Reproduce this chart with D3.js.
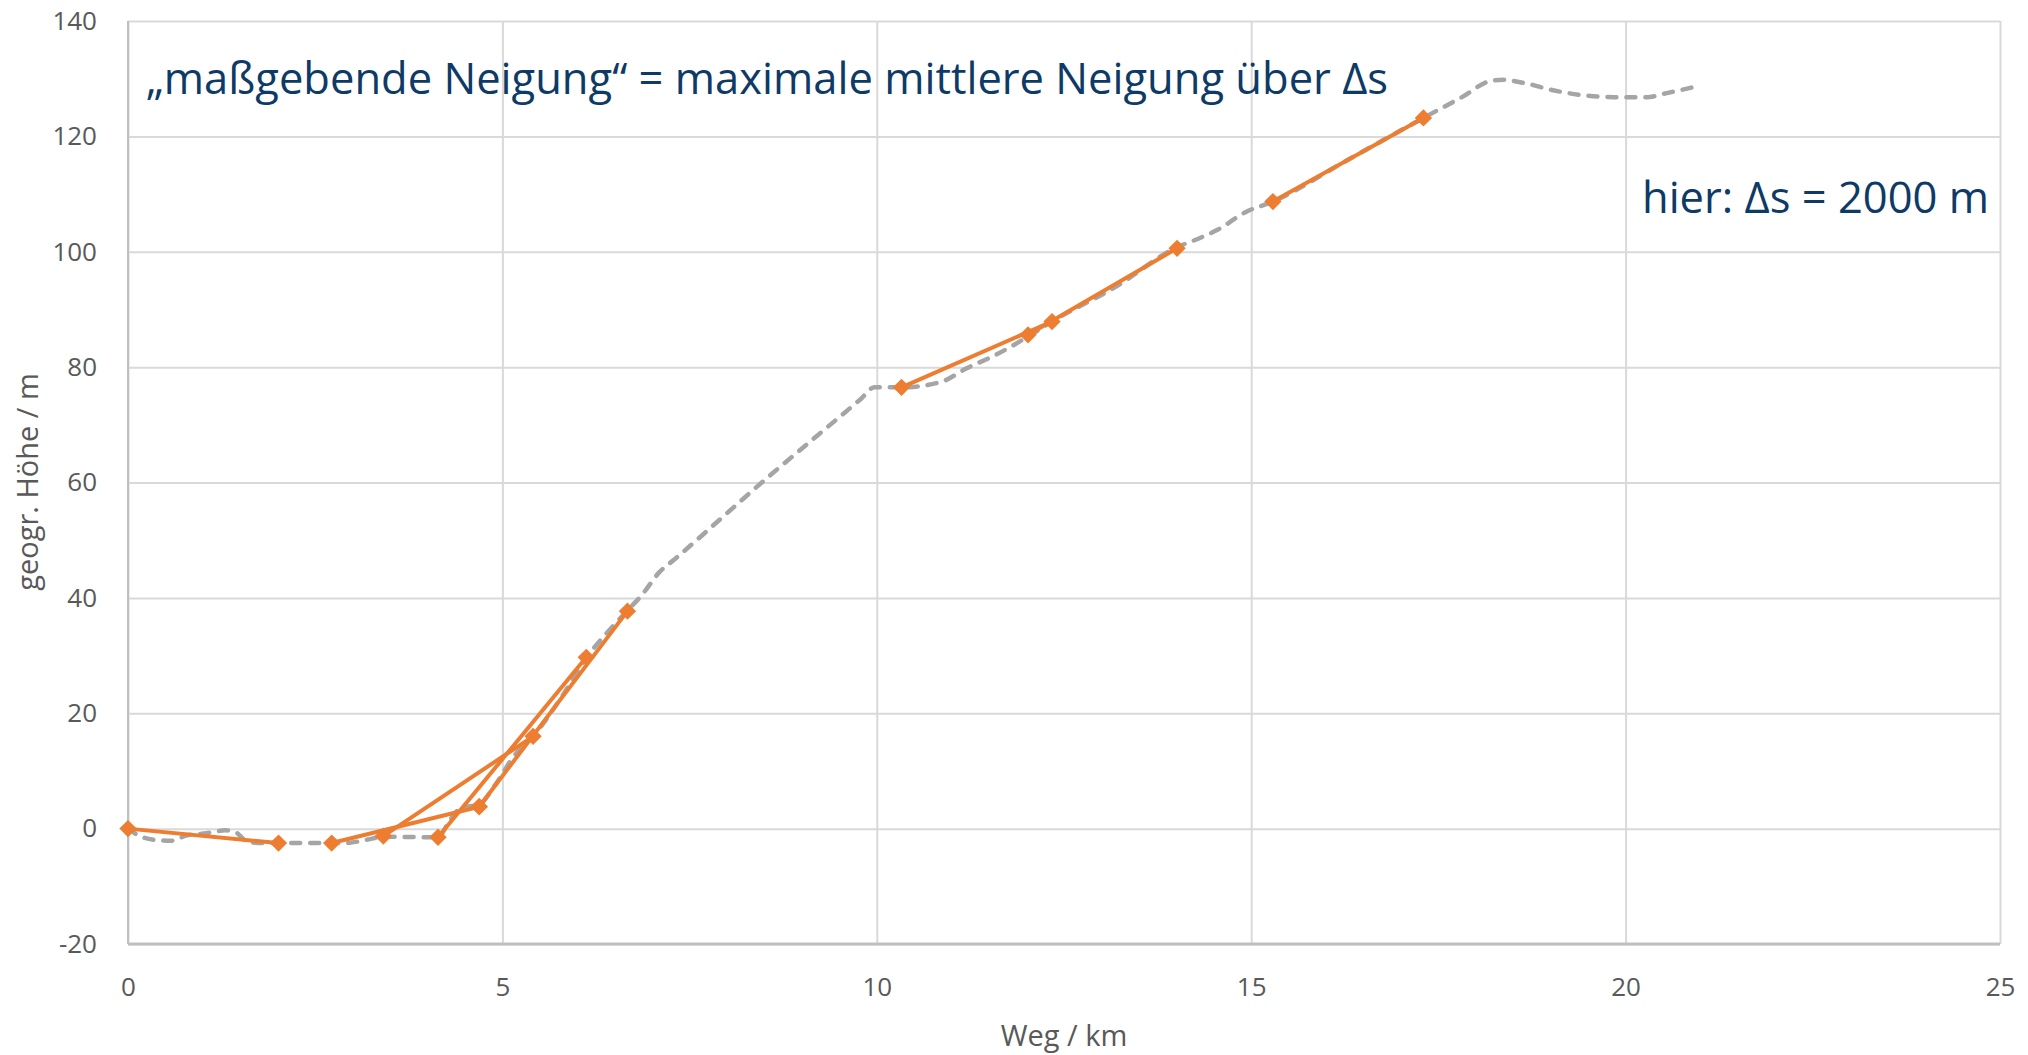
<!DOCTYPE html>
<html>
<head>
<meta charset="utf-8">
<script src="https://cdn.jsdelivr.net/npm/d3@7"></script>
<style>
  body { margin: 0; background: #fff; }
  text { font-family: "Open Sans", sans-serif; }
</style>
</head>
<body>
<svg id="chart"></svg>
<script>
// gray dashed terrain profile (km / m)
const profileKm = [0, 0.16, 0.4, 0.58, 0.78, 1.05, 1.3, 1.42, 1.6, 1.8, 2.9, 3.2, 3.41, 4.14, 4.3, 4.45, 4.69, 4.9, 5.15, 5.41, 5.8, 6.12, 6.4, 6.67, 6.85, 7.1, 7.3, 8.5, 9.78, 9.97, 10.33, 10.85, 11.2, 11.6, 12.02, 12.34, 13.2, 14.01, 14.3, 14.55, 14.93, 15.29, 16.3, 17.3, 17.8, 18.2, 18.37, 18.63, 19.03, 19.39, 19.84, 20.28, 20.55, 20.93];
const profileH = [0, -1.3, -2.0, -2.1, -1.2, -0.8, -0.3, -0.5, -2.3, -2.5, -2.5, -1.9, -1.4, -1.5, 1.5, 3.6, 4.2, 7.5, 12.5, 16.0, 23.0, 29.6, 34.0, 37.8, 40.3, 44.5, 46.7, 60.4, 74.4, 76.5, 76.5, 77.4, 79.8, 82.2, 85.3, 87.9, 94.0, 100.8, 102.3, 103.8, 106.9, 108.7, 116.0, 123.2, 126.7, 129.6, 129.8, 129.3, 128.0, 127.2, 126.8, 126.8, 127.5, 128.6];

// orange 2000 m windows: start and end points
const winStartKm = [0, 2.72, 3.41, 4.14, 4.69, 10.33, 12.02, 15.29];
const winStartH = [0, -2.5, -1.3, -1.5, 3.8, 76.5, 85.6, 108.7];
const winEndKm = [2.01, 4.69, 5.41, 6.12, 6.67, 12.34, 14.01, 17.30];
const winEndH = [-2.5, 3.8, 16.0, 29.7, 37.7, 87.9, 100.6, 123.2];

const xTicks = [0, 5, 10, 15, 20, 25];
const yTicks = [-20, 0, 20, 40, 60, 80, 100, 120, 140];

const W = 2028, H = 1055;
const margin = {top: 21, right: 28, bottom: 111, left: 128};
const iw = W - margin.left - margin.right;
const ih = H - margin.top - margin.bottom;

const svg = d3.select('#chart').attr('width', W).attr('height', H)
  .style('background', '#fff');
const g = svg.append('g').attr('transform', `translate(${margin.left},${margin.top})`);

const x = d3.scaleLinear().domain([0, 25]).range([0, iw]);
const y = d3.scaleLinear().domain([-20, 140]).range([ih, 0]);

// grid + tick labels
const gx = g.append('g').attr('transform', `translate(0,${ih})`)
  .call(d3.axisBottom(x).tickValues(xTicks).tickSize(-ih).tickPadding(34));
const gy = g.append('g')
  .call(d3.axisLeft(y).tickValues(yTicks).tickSize(-iw).tickPadding(31));
[gx, gy].forEach(a => {
  a.select('.domain').remove();
  a.selectAll('line').attr('stroke', '#d9d9d9').attr('stroke-width', 2);
  a.selectAll('text').attr('fill', '#595959').style('font-size', '26px')
    .style('font-family', '"Open Sans", sans-serif');
});
gy.selectAll('text').text(d => d < 0 ? '-' + Math.abs(d) : d);

// axis lines
g.append('line').attr('x1', 0).attr('x2', 0).attr('y1', 0).attr('y2', ih)
  .attr('stroke', '#bfbfbf').attr('stroke-width', 2);
g.append('line').attr('x1', 0).attr('x2', iw).attr('y1', y(-20)).attr('y2', y(-20))
  .attr('stroke', '#bfbfbf').attr('stroke-width', 3);

// terrain profile
const profile = profileKm.map((k, i) => [k, profileH[i]]);
g.append('path').datum(profile)
  .attr('fill', 'none').attr('stroke', '#a5a5a5').attr('stroke-width', 4.5)
  .attr('stroke-dasharray', '9,10').attr('stroke-linecap', 'round')
  .attr('d', d3.line().x(d => x(d[0])).y(d => y(d[1])).curve(d3.curveMonotoneX));

// windows
const wins = winStartKm.map((k, i) => [[k, winStartH[i]], [winEndKm[i], winEndH[i]]]);
const orange = '#ed7d31';
g.selectAll('path.win').data(wins).join('path').attr('class', 'win')
  .attr('fill', 'none').attr('stroke', orange).attr('stroke-width', 4)
  .attr('d', d3.line().x(d => x(d[0])).y(d => y(d[1])));

const diamond = d3.symbol(d3.symbolSquare, 150);
g.selectAll('path.mk').data(wins.flat()).join('path').attr('class', 'mk')
  .attr('fill', orange)
  .attr('transform', d => `translate(${x(d[0])},${y(d[1])}) rotate(45)`)
  .attr('d', diamond);

// axis titles
svg.append('text').attr('x', margin.left + iw / 2).attr('y', 1046)
  .attr('text-anchor', 'middle').attr('fill', '#595959').style('font-size', '29px')
  .text('Weg / km');
svg.append('text').attr('transform', 'translate(28,482) rotate(-90)')
  .attr('dy', '0.35em').attr('text-anchor', 'middle').attr('fill', '#595959')
  .style('font-size', '29px').text('geogr. Höhe / m');

// annotations
svg.append('text').attr('x', 146).attr('y', 94).attr('fill', '#0e3a66')
  .style('font-size', '43.5px').text('„maßgebende Neigung“ = maximale mittlere Neigung über Δs');
svg.append('text').attr('x', 1989).attr('y', 213).attr('text-anchor', 'end').attr('fill', '#0e3a66')
  .style('font-size', '43.5px').text('hier: Δs = 2000 m');
</script>
</body>
</html>
